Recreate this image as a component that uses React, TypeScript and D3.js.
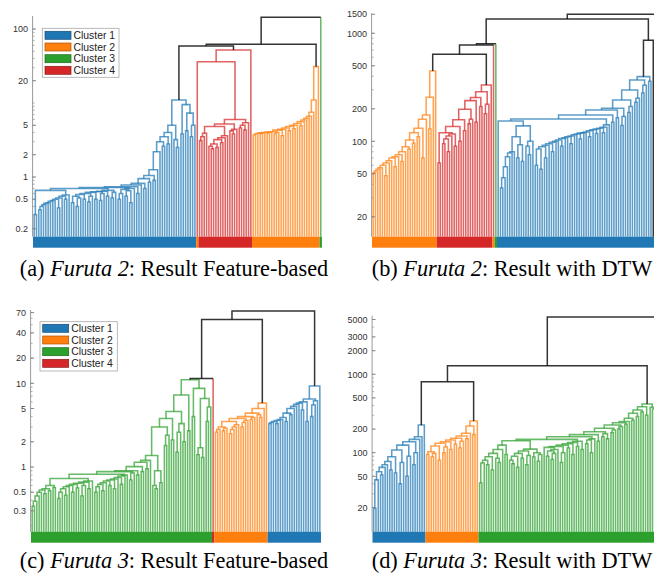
import React from 'react';
import * as d3 from 'd3';

const clusterNames = ['Cluster 1', 'Cluster 2', 'Cluster 3', 'Cluster 4'];
const clusterColors = ['#000000', '#1f77b4', '#ff7f0e', '#2ca02c', '#d62728'];

// ---------- (a) Furuta 2 feature-based: adjacent-leaf merge heights ----------
const aBlueGaps = [0.31, 0.66,
  0.36, 0.4, 0.42, 0.44, 0.45, 0.47, 0.48, 0.5, 0.38, 0.52, 0.55, 0.5, 0.57,
  0.7,
  0.45, 0.55, 0.4, 0.52, 0.58, 0.5, 0.6, 0.46, 0.55, 0.62, 0.5, 0.63, 0.48, 0.6, 0.64, 0.55, 0.66, 0.52, 0.62,
  0.72,
  0.5, 0.6, 0.68, 0.55, 0.65, 0.45, 0.7, 0.74, 0.6,
  0.78, 0.82, 0.7, 0.95, 0.85, 1.05, 0.9, 1.25,
  2.2, 3.0, 2.6, 3.5, 2.8, 4.0, 5.0, 3.2, 2.5, 11.0, 3.8, 9.5, 4.2, 7.3, 3.5, 5.0];
const aRedGaps = [3.1, 3.5, 3.9, 4.8, 2.6, 2.4, 2.8, 2.5, 3.2, 2.9, 3.4, 3.6, 5.2, 4.2, 3.8, 4.4, 6.0, 4.6, 5.0, 4.3, 5.4];
const aOrangeGaps = [3.7, 3.8, 3.9, 3.85, 3.95, 4.0, 3.9, 4.05, 4.1, 3.8, 4.0, 4.3, 3.6, 4.4, 4.6, 4.2, 4.8, 4.5, 5.0, 5.3, 4.9, 5.6, 5.9, 6.2, 6.6, 7.5, 11, 31];
const aGaps = [...aBlueGaps, 59, 36, ...aRedGaps, 52, 62, ...aOrangeGaps, 144];
const aLinkRuns: [number, number][] = [[1, 70], [4, 24], [2, 29], [3, 1]];
const aBarRuns: [number, number][] = [[1, 70], [2, 1], [4, 23], [2, 29], [3, 1]];
const aTicks = [100, 20, 5, 2, 1, 0.5, 0.2];

// ---------- (b) Furuta 2 DTW ----------
const bOrangeGaps = [51, 53, 55, 57, 60, 48, 63, 66, 70, 58, 72, 75, 65, 80, 89, 85, 103, 96, 120, 110, 132, 70, 160, 175, 130, 256, 448];
const bRedGaps = [63, 120, 95, 105, 80, 112, 117, 90, 137, 100, 158, 125, 198, 145, 160, 238, 150, 254, 210, 288, 180, 220, 332];
const bBlueGaps = [154,
  37, 46, 58, 72, 78, 80, 110, 70, 93, 65, 139, 90, 75, 100,
  161,
  60, 85, 55, 89, 70, 92, 95, 80, 98, 100, 103, 90, 106, 108, 110, 95, 112, 115, 117, 105, 119, 120, 122, 110, 125, 128, 118, 130, 132, 120, 135, 142,
  175, 150, 195, 165, 202, 140, 170, 241, 185, 210, 298, 230, 250, 370, 280, 330, 397, 360];
const bGaps = [...bOrangeGaps, 640, ...bRedGaps, 780, 800, 1360, ...bBlueGaps, 860, 1500, 1000];
const bLinkRuns: [number, number][] = [[2, 28], [4, 25], [3, 1], [1, 67], [0, 3]];
const bBarRuns: [number, number][] = [[2, 28], [4, 24], [2, 1], [3, 1], [1, 70]];
const bTicks = [1500, 1000, 500, 200, 100, 50, 20];

// ---------- (c) Furuta 3 feature-based ----------
const cGreenGaps = [0.34, 0.39, 0.45, 0.5, 0.53, 0.48, 0.55, 0.52, 0.6, 0.57,
  0.73,
  0.42, 0.5, 0.55, 0.46, 0.58, 0.6, 0.5, 0.62, 0.56, 0.64, 0.45, 0.6, 0.66, 0.55, 0.68,
  0.82,
  0.5, 0.58, 0.62, 0.52, 0.65, 0.68, 0.6, 0.7, 0.55, 0.72, 0.75, 0.62, 0.78, 0.8, 0.88,
  0.7, 0.85, 0.9, 0.8, 1.01, 0.88, 1.14, 0.95, 1.2, 1.37,
  0.6, 0.55, 0.9, 0.65, 3.0, 1.8, 2.4, 3.8, 2.1, 4.6, 1.5, 2.6, 3.3, 2.0, 7.25, 2.7,
  11.0, 4.0, 8.7, 1.4, 1.7, 1.3, 6.6, 3.5, 5.2];
const cOrangeGaps = [2.6, 2.8, 3.0, 2.7, 2.9, 3.5, 2.5, 2.8, 3.0, 3.2, 3.8, 3.0, 3.4, 3.6, 4.0, 3.7, 3.9, 4.4, 4.2, 3.9, 5.0, 5.8];
const cBlueGaps = [3.3, 3.4, 3.5, 3.3, 3.6, 3.7, 3.9, 3.5, 4.4, 4.2, 5.0, 5.3, 5.6, 5.8, 4.8, 6.0, 3.5, 6.5, 4.0, 5.5, 6.2, 9.3];
const cGaps = [...cGreenGaps, 11.4, 58, ...cOrangeGaps, 73, ...cBlueGaps];
const cLinkRuns: [number, number][] = [[3, 78], [4, 1], [2, 23], [1, 23]];
const cBarRuns: [number, number][] = [[3, 78], [4, 1], [2, 23], [1, 23]];
const cTicks = [70, 40, 20, 10, 5, 2, 1, 0.5, 0.3];

// ---------- (d) Furuta 3 DTW ----------
const dBlueGaps = [19.5, 45, 57, 52, 65, 70, 77, 60, 89, 55, 108, 40, 75, 125, 50, 90, 138, 70, 100, 148, 160, 226];
const dOrangeGaps = [95, 103, 88, 98, 122, 80, 132, 100, 118, 138, 110, 145, 128, 153, 115, 140, 163, 150, 177, 219, 170, 254];
const dGreenGaps = [41, 74, 80, 70, 89, 60, 98, 85, 75, 110, 125, 95,
  142,
  80, 72, 90, 65, 98, 85, 105, 70, 92, 111, 88, 100, 78, 95,
  148,
  117, 90, 105, 82, 98, 110, 120, 75, 100, 125, 115, 130, 95, 135, 120, 140, 110,
  160,
  130, 145, 100, 150, 170, 140,
  185, 160, 175, 150, 205, 180, 195, 226, 200, 215, 241, 230, 250, 275, 260, 318, 290, 350, 330, 386, 300, 418,
  380, 360, 340];
const dGaps = [...dBlueGaps, 805, ...dOrangeGaps, 1290, ...dGreenGaps, 5390];
const dLinkRuns: [number, number][] = [[1, 23], [2, 23], [3, 78], [4, 1]];
const dBarRuns: [number, number][] = [[1, 23], [2, 23], [3, 78], [4, 1]];
const dTicks = [5000, 3000, 2000, 1000, 500, 200, 100, 50, 20];

const expand = (runs: [number, number][]) => runs.flatMap(([c, n]) => Array(n).fill(c) as number[]);

type Cfg = {
  gaps: number[]; linkRuns: [number, number][]; barRuns: [number, number][]; ticks: number[];
  x0: number; step: number; calib: [number, number]; calibPx: [number, number];
  top: number; bottom: number; legend?: { x: number; y: number; w: number; h: number; rows: number[]; sx: number; order: number[] };
};

function Dendrogram({ cfg }: { cfg: Cfg }) {
  const linkC = expand(cfg.linkRuns);
  const n = linkC.length;
  const x = d3.scaleLinear().domain([0, n]).range([cfg.x0, cfg.x0 + n * cfg.step]);
  const y = d3.scaleLog().domain(cfg.calib).range(cfg.calibPx);
  const yb = cfg.bottom;

  const bars: { x0: number; x1: number; c: number }[] = [];
  let acc = 0;
  cfg.barRuns.forEach(([c, cnt]) => { bars.push({ x0: x(acc), x1: x(acc + cnt), c }); acc += cnt; });

  const parts: { d: string; c: number; key: string }[] = [];
  type Node = { x: number; h: number | null; c: number };
  const build = (lo: number, hi: number): Node => {
    if (lo === hi) return { x: x(lo + 0.5), h: null, c: linkC[lo] };
    let k = lo;
    for (let i = lo; i < hi; i++) if (cfg.gaps[i] > cfg.gaps[k]) k = i;
    const L = build(lo, k);
    const R = build(k + 1, hi);
    const c = L.c === R.c ? L.c : 0;
    const yh = y(cfg.gaps[k]);
    const ly = L.h === null ? yb : y(L.h);
    const ry = R.h === null ? yb : y(R.h);
    const lSep = L.h === null && L.c !== c;
    const rSep = R.h === null && R.c !== c;
    let dd = lSep ? `M${L.x},${yh}` : `M${L.x},${ly}V${yh}`;
    dd += `H${R.x}`;
    if (!rSep) dd += `V${ry}`;
    parts.push({ d: dd, c, key: `m${lo}-${hi}` });
    if (lSep) parts.push({ d: `M${L.x},${ly}V${yh}`, c: L.c, key: `l${lo}` });
    if (rSep) parts.push({ d: `M${R.x},${ry}V${yh}`, c: R.c, key: `r${hi}` });
    return { x: (L.x + R.x) / 2, h: cfg.gaps[k], c };
  };
  build(0, n - 1);

  const vb = y.invert(yb);
  const vt = y.invert(cfg.top);
  const minor: number[] = [];
  for (let e = Math.floor(Math.log10(vb)); e <= Math.ceil(Math.log10(vt)); e++) {
    for (let m = 1; m <= 9; m++) {
      const v = m * Math.pow(10, e);
      if (v >= vb && v <= vt) minor.push(v);
    }
  }
  const ax = cfg.x0 - 0.4;
  const lg = cfg.legend;

  return (
    <g>
      {bars.map((b, i) => (
        <rect key={`b${i}`} x={b.x0} y={yb} width={b.x1 - b.x0} height={11} fill={clusterColors[b.c]} />
      ))}
      <g fill="none" strokeLinejoin="miter">
        {parts.filter(p => p.c !== 0).map(p => (
          <path key={p.key} d={p.d} stroke={clusterColors[p.c]} strokeWidth={1.55} strokeOpacity={0.72} />
        ))}
        {parts.filter(p => p.c === 0).map(p => (
          <path key={p.key} d={p.d} stroke="#111" strokeWidth={1.5} strokeOpacity={0.85} />
        ))}
      </g>
      <line x1={ax} x2={ax} y1={cfg.top} y2={yb} stroke="#9a9a9a" strokeWidth={1} />
      {minor.map(v => (
        <line key={`mt${v}`} x1={ax} x2={ax + 2} y1={y(v)} y2={y(v)} stroke="#9a9a9a" strokeWidth={0.8} />
      ))}
      {cfg.ticks.map(v => (
        <g key={`t${v}`}>
          <line x1={ax} x2={ax + 3.5} y1={y(v)} y2={y(v)} stroke="#808080" strokeWidth={0.9} />
          <text x={ax - 4.5} y={y(v) + 3.2} textAnchor="end" fontSize={9} fontFamily="Liberation Sans, Arial, sans-serif" fill="#333">{String(v)}</text>
        </g>
      ))}
      {lg && (
        <g>
          <rect x={lg.x} y={lg.y} width={lg.w} height={lg.h} fill="#fff" stroke="#a8a8a8" strokeWidth={0.8} />
          {lg.rows.map((cy, i) => (
            <g key={`lg${i}`}>
              <rect x={lg.sx} y={cy - 4} width={26} height={8} fill={clusterColors[lg.order[i]]} stroke={d3.color(clusterColors[lg.order[i]])!.darker(1.2).toString()} strokeWidth={0.7} />
              <text x={lg.sx + 28.5} y={cy + 3.7} fontSize={10.4} fontFamily="Liberation Sans, Arial, sans-serif" fill="#222">{clusterNames[i]}</text>
            </g>
          ))}
        </g>
      )}
    </g>
  );
}

const panels: Cfg[] = [
  { gaps: aGaps, linkRuns: aLinkRuns, barRuns: aBarRuns, ticks: aTicks, x0: 33, step: 2.33, calib: [1, 100], calibPx: [177, 29], top: 16, bottom: 236.7,
    legend: { x: 42.3, y: 28.3, w: 76.7, h: 49, rows: [35.3, 47, 58.7, 70.3], sx: 45, order: [1, 2, 3, 4] } },
  { gaps: bGaps, linkRuns: bLinkRuns, barRuns: bBarRuns, ticks: bTicks, x0: 372, step: 2.315, calib: [100, 1000], calibPx: [141.3, 33.3], top: 13.3, bottom: 236.7 },
  { gaps: cGaps, linkRuns: cLinkRuns, barRuns: cBarRuns, ticks: cTicks, x0: 31, step: 2.32, calib: [1, 10], calibPx: [467, 383.3], top: 310, bottom: 531.7,
    legend: { x: 40, y: 321.7, w: 77.3, h: 49.3, rows: [328.3, 340, 351.7, 363.3], sx: 42.7, order: [1, 2, 3, 4] } },
  { gaps: dGaps, linkRuns: dLinkRuns, barRuns: dBarRuns, ticks: dTicks, x0: 372.5, step: 2.304, calib: [100, 1000], calibPx: [452.7, 374.3], top: 315.7, bottom: 531.7 },
];

const captions = [
  { x: 174, y: 276, pre: '(a) ', it: 'Furuta 2', post: ': Result Feature-based' },
  { x: 512, y: 276, pre: '(b) ', it: 'Furuta 2', post: ': Result with DTW' },
  { x: 174, y: 568, pre: '(c) ', it: 'Furuta 3', post: ': Result Feature-based' },
  { x: 512, y: 568, pre: '(d) ', it: 'Furuta 3', post: ': Result with DTW' },
];

export default function App() {
  return (
    <svg width={654} height={573} viewBox="0 0 654 573" style={{ position: 'absolute', left: 0, top: 0, display: 'block', background: '#fff' }}>
      <rect x={0} y={0} width={654} height={573} fill="#fff" />
      {panels.map((p, i) => <Dendrogram key={i} cfg={p} />)}
      {captions.map((c, i) => (
        <text key={`c${i}`} x={c.x} y={c.y} textAnchor="middle" fontSize={22.3} fontFamily="Liberation Serif, Times New Roman, serif" fill="#000">
          {c.pre}<tspan fontStyle="italic">{c.it}</tspan>{c.post}
        </text>
      ))}
    </svg>
  );
}
